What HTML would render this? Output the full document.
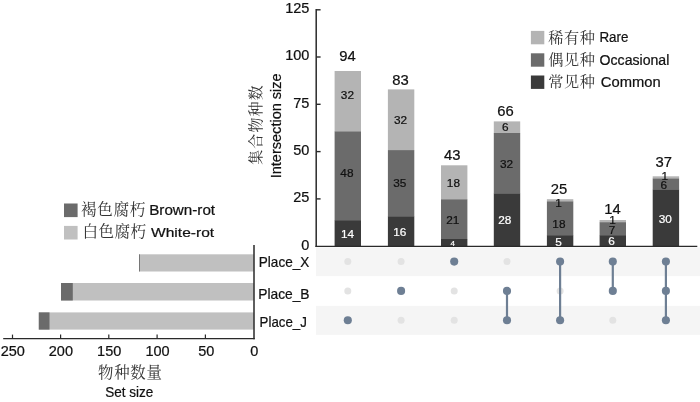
<!DOCTYPE html>
<html lang="zh">
<head>
<meta charset="utf-8">
<title>UpSet plot</title>
<style>
html,body{margin:0;padding:0;background:#fff;}
body{width:700px;height:402px;overflow:hidden;font-family:"Liberation Sans", sans-serif;}
svg{display:block;}
</style>
</head>
<body>
<svg width="700" height="402" viewBox="0 0 700 402">
<rect x="0" y="0" width="700" height="402" fill="#ffffff"/>
<rect x="316.00" y="247.40" width="384.00" height="28.70" fill="#f5f5f5"/>
<rect x="316.00" y="305.90" width="384.00" height="29.00" fill="#f5f5f5"/>
<rect x="334.60" y="71.00" width="26.40" height="60.60" fill="#b4b4b4"/>
<rect x="334.60" y="131.40" width="26.40" height="89.00" fill="#6b6b6b"/>
<rect x="334.60" y="220.20" width="26.40" height="26.00" fill="#3a3a3a"/>
<rect x="387.90" y="89.40" width="26.40" height="60.90" fill="#b4b4b4"/>
<rect x="387.90" y="150.10" width="26.40" height="66.40" fill="#6b6b6b"/>
<rect x="387.90" y="216.30" width="26.40" height="29.90" fill="#3a3a3a"/>
<rect x="441.00" y="165.30" width="26.40" height="34.20" fill="#b4b4b4"/>
<rect x="441.00" y="199.30" width="26.40" height="39.90" fill="#6b6b6b"/>
<rect x="441.00" y="239.00" width="26.40" height="7.20" fill="#3a3a3a"/>
<rect x="493.80" y="121.40" width="26.40" height="11.80" fill="#b4b4b4"/>
<rect x="493.80" y="133.00" width="26.40" height="60.60" fill="#6b6b6b"/>
<rect x="493.80" y="193.40" width="26.40" height="52.80" fill="#3a3a3a"/>
<rect x="546.90" y="199.20" width="26.40" height="2.40" fill="#b4b4b4"/>
<rect x="546.90" y="201.40" width="26.40" height="34.00" fill="#6b6b6b"/>
<rect x="546.90" y="235.20" width="26.40" height="11.00" fill="#3a3a3a"/>
<rect x="599.60" y="220.00" width="26.40" height="2.40" fill="#b4b4b4"/>
<rect x="599.60" y="222.20" width="26.40" height="13.20" fill="#6b6b6b"/>
<rect x="599.60" y="235.20" width="26.40" height="11.00" fill="#3a3a3a"/>
<rect x="652.70" y="176.30" width="26.40" height="2.40" fill="#b4b4b4"/>
<rect x="652.70" y="178.50" width="26.40" height="11.30" fill="#6b6b6b"/>
<rect x="652.70" y="189.60" width="26.40" height="56.60" fill="#3a3a3a"/>
<path d="M316.2 9.1 V246.95" fill="none" stroke="#2a2a2a" stroke-width="1.5"/>
<path d="M315.45 246.35 H697.3" fill="none" stroke="#2a2a2a" stroke-width="1.25"/>
<path d="M316.2 9.8 H320.6" stroke="#2a2a2a" stroke-width="1.4"/>
<path d="M316.2 57.0 H320.6" stroke="#2a2a2a" stroke-width="1.4"/>
<path d="M316.2 104.3 H320.6" stroke="#2a2a2a" stroke-width="1.4"/>
<path d="M316.2 151.6 H320.6" stroke="#2a2a2a" stroke-width="1.4"/>
<path d="M316.2 198.9 H320.6" stroke="#2a2a2a" stroke-width="1.4"/>
<text x="309.40" y="13.29" font-size="14.5" fill="#111" text-anchor="end" stroke="#111" stroke-width="0.22" font-family='"Liberation Sans", sans-serif' >125</text>
<text x="309.40" y="60.49" font-size="14.5" fill="#111" text-anchor="end" stroke="#111" stroke-width="0.22" font-family='"Liberation Sans", sans-serif' >100</text>
<text x="309.40" y="107.79" font-size="14.5" fill="#111" text-anchor="end" stroke="#111" stroke-width="0.22" font-family='"Liberation Sans", sans-serif' >75</text>
<text x="309.40" y="155.09" font-size="14.5" fill="#111" text-anchor="end" stroke="#111" stroke-width="0.22" font-family='"Liberation Sans", sans-serif' >50</text>
<text x="309.40" y="202.39" font-size="14.5" fill="#111" text-anchor="end" stroke="#111" stroke-width="0.22" font-family='"Liberation Sans", sans-serif' >25</text>
<text x="309.40" y="249.69" font-size="14.5" fill="#111" text-anchor="end" stroke="#111" stroke-width="0.22" font-family='"Liberation Sans", sans-serif' >0</text>
<text x="347.40" y="60.90" font-size="14.8" fill="#111" text-anchor="middle" stroke="#111" stroke-width="0.22" font-family='"Liberation Sans", sans-serif' >94</text>
<text x="400.50" y="85.30" font-size="14.8" fill="#111" text-anchor="middle" stroke="#111" stroke-width="0.22" font-family='"Liberation Sans", sans-serif' >83</text>
<text x="452.20" y="159.50" font-size="14.8" fill="#111" text-anchor="middle" stroke="#111" stroke-width="0.22" font-family='"Liberation Sans", sans-serif' >43</text>
<text x="505.40" y="116.40" font-size="14.8" fill="#111" text-anchor="middle" stroke="#111" stroke-width="0.22" font-family='"Liberation Sans", sans-serif' >66</text>
<text x="558.90" y="193.70" font-size="14.8" fill="#111" text-anchor="middle" stroke="#111" stroke-width="0.22" font-family='"Liberation Sans", sans-serif' >25</text>
<text x="612.50" y="214.30" font-size="14.8" fill="#111" text-anchor="middle" stroke="#111" stroke-width="0.22" font-family='"Liberation Sans", sans-serif' >14</text>
<text x="663.80" y="167.00" font-size="14.8" fill="#111" text-anchor="middle" stroke="#111" stroke-width="0.22" font-family='"Liberation Sans", sans-serif' >37</text>
<text x="347.40" y="99.32" font-size="11.8" fill="#111" text-anchor="middle" stroke="#111" stroke-width="0.22" font-family='"Liberation Sans", sans-serif' >32</text>
<text x="346.90" y="176.52" font-size="11.8" fill="#111" text-anchor="middle" stroke="#111" stroke-width="0.22" font-family='"Liberation Sans", sans-serif' >48</text>
<text x="347.50" y="237.92" font-size="11.8" fill="#fff" text-anchor="middle" stroke="#fff" stroke-width="0.22" font-family='"Liberation Sans", sans-serif' >14</text>
<text x="400.60" y="123.72" font-size="11.8" fill="#111" text-anchor="middle" stroke="#111" stroke-width="0.22" font-family='"Liberation Sans", sans-serif' >32</text>
<text x="399.80" y="187.22" font-size="11.8" fill="#111" text-anchor="middle" stroke="#111" stroke-width="0.22" font-family='"Liberation Sans", sans-serif' >35</text>
<text x="399.80" y="236.02" font-size="11.8" fill="#fff" text-anchor="middle" stroke="#fff" stroke-width="0.22" font-family='"Liberation Sans", sans-serif' >16</text>
<text x="453.40" y="186.62" font-size="11.8" fill="#111" text-anchor="middle" stroke="#111" stroke-width="0.22" font-family='"Liberation Sans", sans-serif' >18</text>
<text x="452.80" y="223.52" font-size="11.8" fill="#111" text-anchor="middle" stroke="#111" stroke-width="0.22" font-family='"Liberation Sans", sans-serif' >21</text>
<text x="505.20" y="131.12" font-size="11.8" fill="#111" text-anchor="middle" stroke="#111" stroke-width="0.22" font-family='"Liberation Sans", sans-serif' >6</text>
<text x="506.50" y="167.72" font-size="11.8" fill="#111" text-anchor="middle" stroke="#111" stroke-width="0.22" font-family='"Liberation Sans", sans-serif' >32</text>
<text x="504.80" y="224.42" font-size="11.8" fill="#fff" text-anchor="middle" stroke="#fff" stroke-width="0.22" font-family='"Liberation Sans", sans-serif' >28</text>
<text x="558.50" y="207.02" font-size="11.8" fill="#111" text-anchor="middle" stroke="#111" stroke-width="0.22" font-family='"Liberation Sans", sans-serif' >1</text>
<text x="558.90" y="227.52" font-size="11.8" fill="#111" text-anchor="middle" stroke="#111" stroke-width="0.22" font-family='"Liberation Sans", sans-serif' >18</text>
<text x="558.50" y="245.62" font-size="11.8" fill="#fff" text-anchor="middle" stroke="#fff" stroke-width="0.22" font-family='"Liberation Sans", sans-serif' >5</text>
<text x="612.50" y="224.32" font-size="11.8" fill="#111" text-anchor="middle" stroke="#111" stroke-width="0.22" font-family='"Liberation Sans", sans-serif' >1</text>
<text x="612.10" y="233.82" font-size="11.8" fill="#111" text-anchor="middle" stroke="#111" stroke-width="0.22" font-family='"Liberation Sans", sans-serif' >7</text>
<text x="611.50" y="245.22" font-size="11.8" fill="#fff" text-anchor="middle" stroke="#fff" stroke-width="0.22" font-family='"Liberation Sans", sans-serif' >6</text>
<text x="664.70" y="179.82" font-size="11.8" fill="#111" text-anchor="middle" stroke="#111" stroke-width="0.22" font-family='"Liberation Sans", sans-serif' >1</text>
<text x="663.80" y="188.92" font-size="11.8" fill="#111" text-anchor="middle" stroke="#111" stroke-width="0.22" font-family='"Liberation Sans", sans-serif' >6</text>
<text x="665.20" y="222.82" font-size="11.8" fill="#fff" text-anchor="middle" stroke="#fff" stroke-width="0.22" font-family='"Liberation Sans", sans-serif' >30</text>
<text x="452.80" y="245.76" font-size="8" fill="#fff" text-anchor="middle" stroke="#fff" stroke-width="0.22" font-family='"Liberation Sans", sans-serif' >4</text>
<text transform="translate(260.8 124.5) rotate(-90)" font-size="15" fill="#333" text-anchor="middle" letter-spacing="1.1" font-family='"Liberation Serif", "Noto Serif CJK SC", serif'>集合物种数</text>
<text transform="translate(281.2 178.3) rotate(-90)" font-size="14.2" fill="#111" stroke="#111" stroke-width="0.22" textLength="105" lengthAdjust="spacingAndGlyphs" font-family='"Liberation Sans", sans-serif'>Intersection size</text>
<rect x="530.90" y="30.90" width="13.40" height="13.40" fill="#b4b4b4"/>
<text x="548.20" y="42.58" font-size="15.2" fill="#333" textLength="46.80" lengthAdjust="spacing" font-family='"Liberation Serif", "Noto Serif CJK SC", serif'>稀有种</text>
<text x="599.40" y="42.20" font-size="13.8" fill="#111" textLength="29.00" lengthAdjust="spacingAndGlyphs" stroke="#111" stroke-width="0.22" font-family='"Liberation Sans", sans-serif' >Rare</text>
<rect x="530.90" y="53.30" width="13.40" height="13.40" fill="#6b6b6b"/>
<text x="548.20" y="64.98" font-size="15.2" fill="#333" textLength="46.80" lengthAdjust="spacing" font-family='"Liberation Serif", "Noto Serif CJK SC", serif'>偶见种</text>
<text x="599.60" y="64.60" font-size="13.8" fill="#111" textLength="69.70" lengthAdjust="spacingAndGlyphs" stroke="#111" stroke-width="0.22" font-family='"Liberation Sans", sans-serif' >Occasional</text>
<rect x="530.90" y="75.50" width="13.40" height="13.40" fill="#3a3a3a"/>
<text x="548.20" y="87.18" font-size="15.2" fill="#333" textLength="46.80" lengthAdjust="spacing" font-family='"Liberation Serif", "Noto Serif CJK SC", serif'>常见种</text>
<text x="600.80" y="86.80" font-size="13.8" fill="#111" textLength="59.80" lengthAdjust="spacingAndGlyphs" stroke="#111" stroke-width="0.22" font-family='"Liberation Sans", sans-serif' >Common</text>
<circle cx="347.80" cy="261.6" r="3.5" fill="#e3e3e3"/>
<circle cx="347.80" cy="290.9" r="3.5" fill="#e3e3e3"/>
<circle cx="401.10" cy="261.6" r="3.5" fill="#e3e3e3"/>
<circle cx="401.10" cy="320.2" r="3.5" fill="#e3e3e3"/>
<circle cx="454.20" cy="290.9" r="3.5" fill="#e3e3e3"/>
<circle cx="454.20" cy="320.2" r="3.5" fill="#e3e3e3"/>
<circle cx="507.00" cy="261.6" r="3.5" fill="#e3e3e3"/>
<circle cx="560.10" cy="290.9" r="3.5" fill="#e3e3e3"/>
<circle cx="612.80" cy="320.2" r="3.5" fill="#e3e3e3"/>
<circle cx="347.80" cy="320.2" r="4.05" fill="#6e7f94"/>
<circle cx="401.10" cy="290.9" r="4.05" fill="#6e7f94"/>
<circle cx="454.20" cy="261.6" r="4.05" fill="#6e7f94"/>
<path d="M507.00 290.9 V320.2" stroke="#6e7f94" stroke-width="2.2"/>
<circle cx="507.00" cy="290.9" r="4.05" fill="#6e7f94"/>
<circle cx="507.00" cy="320.2" r="4.05" fill="#6e7f94"/>
<path d="M560.10 261.6 V320.2" stroke="#6e7f94" stroke-width="2.2"/>
<circle cx="560.10" cy="261.6" r="4.05" fill="#6e7f94"/>
<circle cx="560.10" cy="320.2" r="4.05" fill="#6e7f94"/>
<path d="M612.80 261.6 V290.9" stroke="#6e7f94" stroke-width="2.2"/>
<circle cx="612.80" cy="261.6" r="4.05" fill="#6e7f94"/>
<circle cx="612.80" cy="290.9" r="4.05" fill="#6e7f94"/>
<path d="M665.90 261.6 V320.2" stroke="#6e7f94" stroke-width="2.2"/>
<circle cx="665.90" cy="261.6" r="4.05" fill="#6e7f94"/>
<circle cx="665.90" cy="290.9" r="4.05" fill="#6e7f94"/>
<circle cx="665.90" cy="320.2" r="4.05" fill="#6e7f94"/>
<text x="258.80" y="266.80" font-size="13.9" fill="#111" textLength="50.50" lengthAdjust="spacingAndGlyphs" stroke="#111" stroke-width="0.22" font-family='"Liberation Sans", sans-serif' >Place_X</text>
<text x="258.20" y="298.90" font-size="13.9" fill="#111" textLength="51.40" lengthAdjust="spacingAndGlyphs" stroke="#111" stroke-width="0.22" font-family='"Liberation Sans", sans-serif' >Place_B</text>
<text x="259.60" y="326.60" font-size="13.9" fill="#111" textLength="47.20" lengthAdjust="spacingAndGlyphs" stroke="#111" stroke-width="0.22" font-family='"Liberation Sans", sans-serif' >Place_J</text>
<rect x="139.30" y="254.30" width="114.50" height="17.20" fill="#c0c0c0"/>
<rect x="139.10" y="254.30" width="0.90" height="17.20" fill="#6b6b6b"/>
<rect x="61.00" y="283.00" width="192.80" height="17.50" fill="#c0c0c0"/>
<rect x="61.00" y="283.00" width="11.80" height="17.50" fill="#6b6b6b"/>
<rect x="38.80" y="312.40" width="215.00" height="17.20" fill="#c0c0c0"/>
<rect x="38.80" y="312.40" width="10.70" height="17.20" fill="#6b6b6b"/>
<path d="M254 245 V339.25" fill="none" stroke="#2a2a2a" stroke-width="1.5"/>
<path d="M3.2 338.6 H254.75" fill="none" stroke="#2a2a2a" stroke-width="1.3"/>
<path d="M12.5 338.3 V334.6" stroke="#2a2a2a" stroke-width="1.2"/>
<path d="M60.6 338.3 V334.6" stroke="#2a2a2a" stroke-width="1.2"/>
<path d="M108.8 338.3 V334.6" stroke="#2a2a2a" stroke-width="1.2"/>
<path d="M157.1 338.3 V334.6" stroke="#2a2a2a" stroke-width="1.2"/>
<path d="M205.4 338.3 V334.6" stroke="#2a2a2a" stroke-width="1.2"/>
<text x="12.80" y="356.29" font-size="14.5" fill="#111" text-anchor="middle" stroke="#111" stroke-width="0.22" font-family='"Liberation Sans", sans-serif' >250</text>
<text x="60.90" y="356.29" font-size="14.5" fill="#111" text-anchor="middle" stroke="#111" stroke-width="0.22" font-family='"Liberation Sans", sans-serif' >200</text>
<text x="109.20" y="356.29" font-size="14.5" fill="#111" text-anchor="middle" stroke="#111" stroke-width="0.22" font-family='"Liberation Sans", sans-serif' >150</text>
<text x="157.60" y="356.29" font-size="14.5" fill="#111" text-anchor="middle" stroke="#111" stroke-width="0.22" font-family='"Liberation Sans", sans-serif' >100</text>
<text x="206.20" y="356.29" font-size="14.5" fill="#111" text-anchor="middle" stroke="#111" stroke-width="0.22" font-family='"Liberation Sans", sans-serif' >50</text>
<text x="254.40" y="356.29" font-size="14.5" fill="#111" text-anchor="middle" stroke="#111" stroke-width="0.22" font-family='"Liberation Sans", sans-serif' >0</text>
<text x="98.00" y="377.75" font-size="15.4" fill="#333" textLength="63.80" lengthAdjust="spacing" font-family='"Liberation Serif", "Noto Serif CJK SC", serif'>物种数量</text>
<text x="105.30" y="397.00" font-size="14.3" fill="#111" textLength="48.10" lengthAdjust="spacingAndGlyphs" stroke="#111" stroke-width="0.22" font-family='"Liberation Sans", sans-serif' >Set size</text>
<rect x="64.00" y="203.50" width="13.60" height="13.60" fill="#6b6b6b"/>
<rect x="64.00" y="225.90" width="13.60" height="13.60" fill="#c0c0c0"/>
<text x="81.00" y="214.53" font-size="15.6" fill="#333" textLength="64.40" lengthAdjust="spacing" font-family='"Liberation Serif", "Noto Serif CJK SC", serif'>褐色腐朽</text>
<text x="149.20" y="215.30" font-size="13.9" fill="#111" textLength="65.90" lengthAdjust="spacingAndGlyphs" stroke="#111" stroke-width="0.22" font-family='"Liberation Sans", sans-serif' >Brown-rot</text>
<text x="82.60" y="237.03" font-size="15.6" fill="#333" textLength="63.40" lengthAdjust="spacing" font-family='"Liberation Serif", "Noto Serif CJK SC", serif'>白色腐朽</text>
<text x="151.00" y="237.20" font-size="13.7" fill="#111" textLength="63.20" lengthAdjust="spacingAndGlyphs" stroke="#111" stroke-width="0.22" font-family='"Liberation Sans", sans-serif' >White-rot</text>
</svg>
</body>
</html>
